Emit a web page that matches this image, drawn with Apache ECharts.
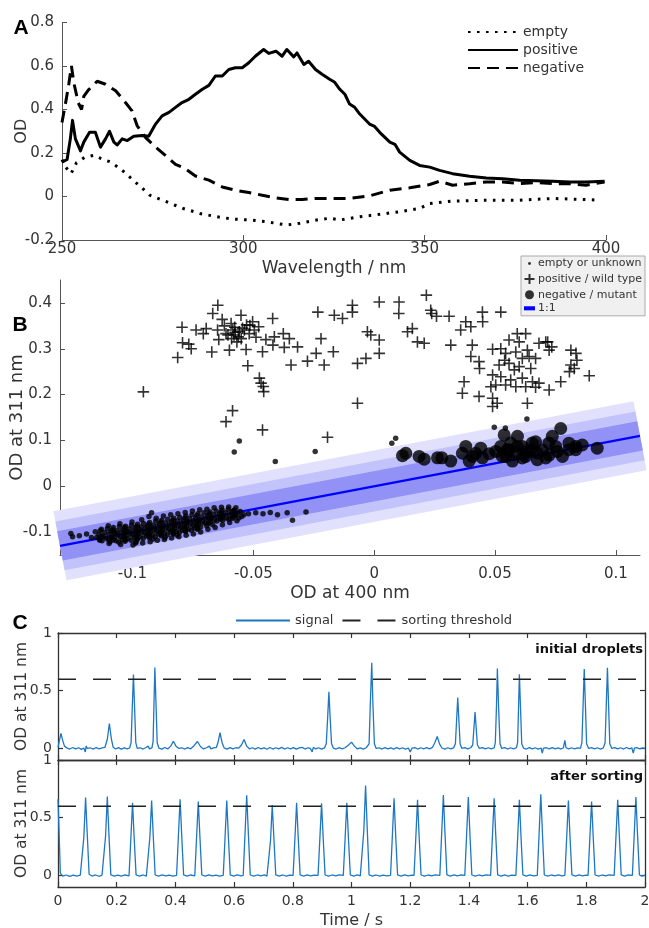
<!DOCTYPE html>
<html>
<head>
<meta charset="utf-8">
<script src="https://cdn.jsdelivr.net/npm/echarts@6/dist/echarts.min.js"></script>
<style>html,body{margin:0;padding:0;background:#fff}#c{width:649px;height:928px}</style>
</head>
<body>
<div id="c"></div>
<script>
// ---------- Panel A: spectra [wavelength nm, OD] ----------
const emptySpectrum = [[250,0.17],[251,0.135],[252.5,0.105],[254,0.155],[256.2,0.18],[258.9,0.19],[260.8,0.174],[263.5,0.158],[265.4,0.135],[267.2,0.112],[269.6,0.075],[272,0.04],[274.2,0.006],[278.8,-0.024],[283.4,-0.055],[288,-0.078],[292.6,-0.093],[297.2,-0.104],[301.8,-0.108],[306.4,-0.116],[311.9,-0.131],[315.6,-0.123],[320.2,-0.108],[323.8,-0.1],[326.6,-0.108],[332.1,-0.093],[337.6,-0.082],[343.1,-0.07],[348.6,-0.055],[351.4,-0.032],[357.7,-0.021],[367,-0.017],[376.2,-0.017],[385.3,-0.009],[394.5,-0.014],[398.3,-0.017]];
const positiveSpectrum = [[250,0.158],[251.4,0.17],[252.3,0.265],[252.9,0.35],[253.7,0.265],[255.1,0.21],[256,0.25],[257.6,0.295],[259.2,0.295],[260.6,0.227],[262,0.265],[263.1,0.3],[264.3,0.25],[265.2,0.237],[266.6,0.265],[268,0.257],[269.8,0.277],[272.1,0.28],[273.9,0.277],[275.8,0.333],[277.6,0.371],[279.5,0.387],[281.3,0.41],[283.1,0.432],[285,0.447],[286.8,0.47],[288.7,0.493],[290.5,0.511],[292.3,0.554],[294.2,0.554],[296,0.584],[297.8,0.592],[299.7,0.592],[301.5,0.615],[303.3,0.645],[305.6,0.676],[307,0.658],[309,0.668],[310.7,0.645],[312,0.676],[313.9,0.642],[314.8,0.66],[316.7,0.607],[318,0.622],[319.9,0.584],[321.7,0.562],[323.8,0.539],[325.2,0.525],[326.6,0.493],[328,0.47],[329.3,0.425],[330.7,0.41],[332.1,0.379],[334.8,0.333],[336.2,0.322],[337.6,0.295],[340.4,0.25],[341.8,0.24],[343.1,0.204],[345.9,0.166],[348.6,0.143],[351.4,0.135],[354.1,0.12],[357.7,0.105],[362.4,0.093],[367,0.085],[371.5,0.082],[376.2,0.075],[380.8,0.072],[385.3,0.07],[390,0.067],[394.5,0.067],[399.6,0.07]];
const negativeSpectrum = [[250,0.34],[251.2,0.45],[251.9,0.52],[252.6,0.6],[253.3,0.52],[254.5,0.43],[255.4,0.4],[256,0.46],[257.3,0.49],[259.7,0.53],[262,0.516],[264.8,0.486],[267.5,0.432],[269.3,0.394],[270.7,0.326],[273,0.272],[275.8,0.227],[278.5,0.189],[281.3,0.148],[284,0.128],[286.8,0.094],[290.5,0.075],[294.2,0.044],[297.8,0.029],[301.5,0.018],[305.2,0.006],[308.9,-0.006],[312.5,-0.014],[316.2,-0.014],[319.9,-0.009],[323.8,-0.009],[329.3,-0.009],[334.8,0.003],[340.4,0.029],[345.9,0.04],[351.4,0.055],[354.1,0.07],[357.7,0.052],[362.4,0.059],[367,0.067],[371.5,0.067],[376.2,0.059],[380.8,0.064],[385.3,0.059],[390,0.059],[394.5,0.052],[399.6,0.067]];
const wavelengthTicks = [250, 300, 350, 400];

// ---------- Panel B: OD at 400 nm vs OD at 311 nm ----------
const emptyPoints = [
[-0.1255,-0.103],[-0.1248,-0.110],[-0.1220,-0.108],[-0.1190,-0.104],[-0.1170,-0.112],
[-0.1154,-0.099],[-0.1139,-0.106],[-0.1148,-0.112],[-0.1135,-0.118],
[-0.1129,-0.094],[-0.1114,-0.101],[-0.1123,-0.108],[-0.1110,-0.113],[-0.1126,-0.119],
[-0.1104,-0.092],[-0.1089,-0.098],[-0.1098,-0.104],[-0.1085,-0.110],[-0.1101,-0.116],[-0.1093,-0.121],
[-0.1079,-0.090],[-0.1064,-0.097],[-0.1073,-0.102],[-0.1060,-0.107],[-0.1076,-0.113],[-0.1068,-0.119],
[-0.1054,-0.088],[-0.1039,-0.095],[-0.1048,-0.100],[-0.1035,-0.105],[-0.1051,-0.110],[-0.1043,-0.116],[-0.1056,-0.122],
[-0.1029,-0.087],[-0.1014,-0.093],[-0.1023,-0.098],[-0.1010,-0.103],[-0.1026,-0.108],[-0.1018,-0.114],[-0.1031,-0.120],
[-0.1004,-0.085],[-0.0989,-0.091],[-0.0998,-0.097],[-0.0985,-0.101],[-0.1001,-0.106],[-0.0993,-0.112],[-0.1006,-0.118],[-0.0987,-0.124],
[-0.0979,-0.083],[-0.0964,-0.089],[-0.0973,-0.094],[-0.0960,-0.099],[-0.0976,-0.104],[-0.0968,-0.110],[-0.0981,-0.116],
[-0.0954,-0.081],[-0.0939,-0.087],[-0.0948,-0.092],[-0.0935,-0.097],[-0.0951,-0.102],[-0.0943,-0.108],[-0.0956,-0.114],
[-0.0929,-0.079],[-0.0914,-0.085],[-0.0923,-0.090],[-0.0910,-0.095],[-0.0926,-0.100],[-0.0918,-0.106],[-0.0931,-0.112],
[-0.0904,-0.076],[-0.0889,-0.082],[-0.0898,-0.088],[-0.0885,-0.093],[-0.0901,-0.098],[-0.0893,-0.104],[-0.0906,-0.110],
[-0.0879,-0.074],[-0.0864,-0.080],[-0.0873,-0.086],[-0.0860,-0.091],[-0.0876,-0.096],[-0.0868,-0.102],[-0.0881,-0.108],
[-0.0854,-0.072],[-0.0839,-0.078],[-0.0848,-0.084],[-0.0835,-0.089],[-0.0851,-0.094],[-0.0843,-0.100],[-0.0856,-0.106],
[-0.0829,-0.070],[-0.0814,-0.076],[-0.0823,-0.082],[-0.0810,-0.087],[-0.0826,-0.092],[-0.0818,-0.098],[-0.0831,-0.104],
[-0.0804,-0.068],[-0.0789,-0.074],[-0.0798,-0.080],[-0.0785,-0.085],[-0.0801,-0.090],[-0.0793,-0.096],[-0.0806,-0.101],
[-0.0779,-0.065],[-0.0764,-0.071],[-0.0773,-0.077],[-0.0760,-0.082],[-0.0776,-0.087],[-0.0768,-0.093],[-0.0781,-0.098],
[-0.0754,-0.062],[-0.0739,-0.069],[-0.0748,-0.075],[-0.0735,-0.080],[-0.0751,-0.085],[-0.0743,-0.091],[-0.0756,-0.096],
[-0.0729,-0.060],[-0.0714,-0.067],[-0.0723,-0.073],[-0.0710,-0.078],[-0.0726,-0.083],[-0.0718,-0.089],[-0.0731,-0.094],
[-0.0704,-0.058],[-0.0689,-0.064],[-0.0698,-0.070],[-0.0685,-0.075],[-0.0701,-0.080],[-0.0693,-0.086],
[-0.0679,-0.056],[-0.0664,-0.062],[-0.0673,-0.068],[-0.0660,-0.073],[-0.0676,-0.078],[-0.0668,-0.084],
[-0.0654,-0.054],[-0.0639,-0.060],[-0.0648,-0.066],[-0.0635,-0.071],[-0.0651,-0.076],
[-0.0629,-0.052],[-0.0614,-0.058],[-0.0623,-0.064],[-0.0610,-0.069],[-0.0626,-0.074],
[-0.0604,-0.050],[-0.0589,-0.056],[-0.0598,-0.062],[-0.0585,-0.067],[-0.0601,-0.072],
[-0.0579,-0.052],[-0.0564,-0.058],[-0.0573,-0.064],[-0.0560,-0.069],
[-0.0554,-0.055],[-0.0539,-0.062],[-0.0548,-0.066],
[-0.1133,-0.097],[-0.1128,-0.110],[-0.1136,-0.116],[-0.1083,-0.095],[-0.1078,-0.100],[-0.1086,-0.112],[-0.1080,-0.117],
[-0.1033,-0.090],[-0.1028,-0.101],[-0.1036,-0.111],[-0.1030,-0.118],[-0.0983,-0.088],[-0.0978,-0.099],[-0.0986,-0.108],[-0.0980,-0.114],
[-0.0933,-0.083],[-0.0928,-0.094],[-0.0936,-0.104],[-0.0930,-0.109],[-0.0883,-0.078],[-0.0878,-0.090],[-0.0886,-0.100],[-0.0880,-0.106],
[-0.0833,-0.074],[-0.0828,-0.085],[-0.0836,-0.096],[-0.0830,-0.102],[-0.0783,-0.069],[-0.0778,-0.080],[-0.0786,-0.091],[-0.0780,-0.097],
[-0.0733,-0.064],[-0.0728,-0.076],[-0.0736,-0.086],[-0.0730,-0.092],[-0.0683,-0.060],[-0.0678,-0.071],[-0.0686,-0.081],
[-0.0633,-0.056],[-0.0628,-0.067],[-0.0636,-0.072],[-0.0583,-0.054],[-0.0578,-0.064],[-0.0586,-0.070],
[-0.1100,-0.086],[-0.1097,-0.125],[-0.1052,-0.082],[-0.1049,-0.127],[-0.1002,-0.078],[-0.0998,-0.128],[-0.0962,-0.073],[-0.0958,-0.124],
[-0.0932,-0.066],[-0.0927,-0.121],[-0.0921,-0.058],[-0.0902,-0.070],[-0.0897,-0.118],[-0.0872,-0.065],[-0.0868,-0.116],[-0.0842,-0.062],
[-0.0838,-0.113],[-0.0812,-0.060],[-0.0808,-0.110],[-0.0782,-0.057],[-0.0778,-0.107],[-0.0752,-0.054],[-0.0748,-0.104],[-0.0722,-0.051],
[-0.0718,-0.100],[-0.0692,-0.050],[-0.0688,-0.094],[-0.0662,-0.047],[-0.0658,-0.090],[-0.0632,-0.046],[-0.0628,-0.084],[-0.0602,-0.045],
[-0.0598,-0.079],[-0.0572,-0.047],[-0.0568,-0.075],[-0.0985,-0.121],[-0.0915,-0.115],[-0.0865,-0.111],[-0.0815,-0.107],
[-0.0520,-0.060],[-0.0490,-0.058],[-0.0460,-0.060],[-0.0430,-0.057],[-0.0400,-0.062],[-0.0360,-0.058],
[-0.0558,0.099],[-0.0579,0.075],[-0.0409,0.054],[-0.0244,0.076],[-0.0338,-0.074],[-0.0282,-0.056],
[0.0073,0.094],[0.0089,0.105],[0.0497,0.129],[0.0543,0.127],[0.0632,0.147]];
const positivePoints = [[-0.0955,0.206],[-0.0813,0.281],[-0.0795,0.347],[-0.0793,0.313],[-0.0767,0.310],[-0.0757,0.300],[-0.0737,0.341],[-0.0707,0.333],[-0.0695,0.344],[-0.0672,0.293],[-0.0668,0.377],[-0.0647,0.395],[-0.0648,0.341],[-0.0643,0.320],[-0.0629,0.364],[-0.0613,0.333],[-0.0599,0.297],[-0.0592,0.355],[-0.0590,0.322],[-0.0585,0.341],[-0.0580,0.330],[-0.0577,0.347],[-0.0558,0.337],[-0.0551,0.373],[-0.0550,0.322],[-0.0537,0.341],[-0.0530,0.2985],[-0.0523,0.263],[-0.0517,0.333],[-0.0514,0.351],[-0.0503,0.359],[-0.0496,0.341],[-0.0489,0.325],[-0.0478,0.348],[-0.0475,0.236],[-0.0468,0.225],[-0.0462,0.2935],[-0.0462,0.123],[-0.0457,0.2065],[-0.0459,0.2175],[-0.0448,0.320],[-0.0420,0.366],[-0.0419,0.308],[-0.0413,0.326],[-0.0376,0.333],[-0.0372,0.303],[-0.0351,0.322],[-0.0344,0.2645],[-0.0317,0.304],[-0.0276,0.273],[-0.0240,0.290],[-0.0233,0.380],[-0.0220,0.322],[-0.0207,0.2645],[-0.0193,0.107],[-0.0613,0.141],[-0.0586,0.165],[-0.0605,0.330],[-0.0575,0.336],[-0.0562,0.326],[-0.0545,0.345],[-0.0528,0.352],[-0.0568,0.315],[-0.0620,0.350],[-0.0165,0.373],[-0.0169,0.2935],[-0.0131,0.366],[-0.0090,0.380],[-0.0090,0.395],[-0.0069,0.268],[-0.0069,0.181],[-0.0034,0.279],[-0.0028,0.337],[-0.0014,0.330],[0.0021,0.402],[0.0021,0.319],[0.0021,0.290],[0.0103,0.402],[0.0102,0.377],[0.0138,0.337],[0.0158,0.344],[0.0179,0.315],[0.0207,0.312],[0.0216,0.417],[0.0234,0.384],[0.0238,0.377],[0.0258,0.371],[0.0310,0.371],[0.0317,0.308],[0.0358,0.341],[0.0379,0.359],[0.0400,0.348],[0.0406,0.308],[0.0448,0.380],[0.0449,0.359],[0.0524,0.380],[0.0400,0.283],[0.0434,0.272],[0.0436,0.257],[0.0372,0.228],[0.0365,0.203],[0.0434,0.196],[0.0490,0.192],[0.0490,0.174],[0.0509,0.181],[0.0634,0.181],[0.0724,0.210],[0.0772,0.228],[0.0890,0.241],[0.0835,0.290],[0.0839,0.275],[0.0814,0.2645],[0.0808,0.250],[0.0592,0.333],[0.0627,0.333],[0.0558,0.319],[0.0682,0.312],[0.0710,0.315],[0.0718,0.315],[0.0735,0.304],[0.0490,0.299],[0.0524,0.300],[0.0544,0.290],[0.0586,0.293],[0.0613,0.279],[0.0641,0.283],[0.0668,0.279],[0.0517,0.2645],[0.0558,0.268],[0.0600,0.261],[0.0648,0.257],[0.0490,0.243],[0.0524,0.239],[0.0565,0.232],[0.0613,0.236],[0.0655,0.228],[0.0682,0.225],[0.0503,0.221],[0.0544,0.221],[0.0586,0.217],[0.0627,0.217],[0.0668,0.216],[0.0483,0.217],[0.0580,0.254],[0.0540,0.275],[0.0634,0.297],[0.0600,0.315],[0.0724,0.297],[0.0814,0.297],[0.0828,0.257]];
const negativePoints = [[0.0117,0.0667],[0.0131,0.072],[0.0186,0.065],[0.0207,0.059],[0.0262,0.062],[0.0280,0.062],[0.0317,0.055],[0.0365,0.072],[0.0379,0.087],[0.0393,0.055],[0.0407,0.065],[0.0420,0.072],[0.0441,0.083],[0.0448,0.062],[0.0476,0.071],[0.0503,0.076],[0.0524,0.087],[0.0538,0.112],[0.0545,0.065],[0.0558,0.079],[0.0572,0.055],[0.0586,0.072],[0.0593,0.109],[0.0613,0.087],[0.0627,0.065],[0.0648,0.079],[0.0668,0.097],[0.0675,0.058],[0.0696,0.079],[0.0724,0.068],[0.0737,0.109],[0.0751,0.087],[0.0772,0.126],[0.0779,0.065],[0.0806,0.094],[0.0834,0.087],[0.0861,0.090],[0.0923,0.083],[0.0530,0.0652],[0.0565,0.0943],[0.0613,0.0617],[0.0654,0.0943],[0.0675,0.0726],[0.0723,0.0943],[0.0758,0.076],[0.0806,0.0798],[0.0834,0.0798],[0.0551,0.0798],[0.0592,0.087],[0.0634,0.076],[0.0710,0.0617]];
const identityRange = [-0.13, 0.11];
const bandHalfWidths = [0.078, 0.055, 0.033];
const odTicksX = [-0.1, -0.05, 0, 0.05, 0.1];
const odTicksY = [-0.1, 0, 0.1, 0.2, 0.3, 0.4];

// ---------- Panel C: time traces [time s, OD at 311 nm] ----------
const signalInitial = [[0.000,0.01],[0.004,0.06],[0.010,0.13],[0.016,0.07],[0.022,0.02],[0.030,0.005],[0.040,-0.005],[0.050,0.008],[0.060,-0.004],[0.070,0.006],[0.080,-0.008],[0.088,0.004],[0.093,-0.03],[0.096,0.02],[0.100,0.0],[0.110,0.006],[0.120,-0.006],[0.130,0.008],[0.140,-0.003],[0.150,0.005],[0.160,0.01],[0.168,0.08],[0.175,0.215],[0.182,0.08],[0.188,0.01],[0.196,-0.005],[0.206,0.007],[0.216,-0.006],[0.226,0.005],[0.236,-0.004],[0.244,0.004],[0.249,0.05],[0.253,0.35],[0.257,0.64],[0.261,0.35],[0.265,0.05],[0.270,0.0],[0.280,0.006],[0.290,-0.005],[0.300,0.008],[0.307,0.02],[0.312,-0.004],[0.320,0.005],[0.324,0.06],[0.327,0.38],[0.330,0.70],[0.334,0.38],[0.338,0.05],[0.344,0.002],[0.354,-0.006],[0.364,0.008],[0.374,-0.004],[0.384,0.02],[0.393,0.063],[0.402,0.02],[0.412,0.0],[0.422,0.006],[0.432,-0.005],[0.442,0.007],[0.452,-0.003],[0.462,0.02],[0.475,0.06],[0.486,0.015],[0.496,-0.004],[0.506,0.006],[0.516,0.02],[0.521,-0.004],[0.530,0.005],[0.540,0.01],[0.546,0.06],[0.552,0.136],[0.559,0.05],[0.566,0.005],[0.576,-0.006],[0.586,0.007],[0.596,-0.004],[0.606,0.006],[0.616,0.003],[0.625,0.03],[0.634,0.078],[0.643,0.02],[0.652,-0.003],[0.662,0.006],[0.672,-0.006],[0.682,0.008],[0.692,-0.004],[0.702,0.005],[0.712,-0.007],[0.722,0.008],[0.732,-0.005],[0.742,0.006],[0.752,-0.004],[0.762,0.009],[0.772,-0.005],[0.782,0.006],[0.792,-0.003],[0.802,0.007],[0.812,-0.006],[0.822,0.005],[0.832,0.009],[0.842,-0.005],[0.852,0.006],[0.860,0.0],[0.866,-0.03],[0.870,0.01],[0.878,-0.004],[0.888,0.006],[0.898,-0.005],[0.908,0.005],[0.914,0.04],[0.919,0.28],[0.923,0.49],[0.927,0.28],[0.932,0.04],[0.938,0.003],[0.948,-0.005],[0.958,0.007],[0.968,-0.004],[0.978,0.006],[0.990,0.03],[1.000,0.055],[1.010,0.02],[1.020,-0.004],[1.030,0.005],[1.040,-0.006],[1.050,0.006],[1.060,0.04],[1.064,0.38],[1.069,0.742],[1.073,0.38],[1.078,0.04],[1.084,0.0],[1.094,0.006],[1.104,-0.005],[1.114,0.007],[1.124,-0.004],[1.134,0.005],[1.144,-0.006],[1.154,0.008],[1.164,-0.003],[1.174,0.006],[1.184,-0.005],[1.194,0.004],[1.200,-0.03],[1.206,0.002],[1.216,0.007],[1.226,-0.005],[1.236,0.006],[1.246,-0.004],[1.256,0.008],[1.266,-0.003],[1.276,0.01],[1.284,0.05],[1.292,0.104],[1.300,0.04],[1.308,0.004],[1.318,-0.005],[1.328,0.006],[1.338,-0.003],[1.348,0.005],[1.354,0.04],[1.358,0.24],[1.362,0.44],[1.366,0.24],[1.370,0.04],[1.376,0.0],[1.386,0.007],[1.396,-0.004],[1.406,0.006],[1.413,0.03],[1.417,0.17],[1.421,0.316],[1.425,0.17],[1.429,0.03],[1.436,0.0],[1.446,0.007],[1.456,-0.004],[1.466,0.006],[1.476,-0.003],[1.486,0.005],[1.490,0.05],[1.494,0.37],[1.497,0.693],[1.501,0.37],[1.506,0.04],[1.512,0.0],[1.522,0.007],[1.532,-0.005],[1.542,0.006],[1.552,-0.003],[1.562,0.006],[1.566,0.05],[1.569,0.34],[1.572,0.643],[1.576,0.34],[1.580,0.04],[1.586,0.003],[1.596,-0.005],[1.606,0.007],[1.616,-0.004],[1.626,0.006],[1.636,-0.005],[1.646,0.004],[1.650,-0.04],[1.654,0.003],[1.664,0.006],[1.674,-0.004],[1.684,0.007],[1.694,-0.003],[1.704,0.005],[1.714,-0.005],[1.722,0.006],[1.727,0.07],[1.731,0.006],[1.740,-0.004],[1.750,0.006],[1.760,-0.003],[1.770,0.005],[1.780,0.0],[1.785,0.05],[1.789,0.37],[1.793,0.687],[1.797,0.37],[1.801,0.04],[1.808,0.0],[1.818,0.007],[1.828,-0.004],[1.838,0.006],[1.848,-0.005],[1.858,0.005],[1.864,0.05],[1.868,0.37],[1.872,0.698],[1.876,0.37],[1.880,0.04],[1.887,0.0],[1.897,0.007],[1.907,-0.004],[1.917,0.006],[1.927,-0.005],[1.937,0.008],[1.947,-0.004],[1.955,0.006],[1.960,-0.04],[1.964,0.002],[1.972,0.007],[1.982,-0.004],[1.992,0.005],[2.000,0.0]];
const signalSorted = [[0.000,0.66],[0.004,0.35],[0.008,0.02],[0.016,-0.006],[0.028,0.004],[0.040,-0.008],[0.052,0.003],[0.064,-0.006],[0.076,0.002],[0.082,0.0],[0.088,0.33],[0.094,0.674],[0.100,0.34],[0.106,0.01],[0.116,-0.005],[0.128,0.004],[0.140,-0.007],[0.150,0.002],[0.156,0.0],[0.162,0.34],[0.168,0.683],[0.174,0.33],[0.180,0.005],[0.192,-0.006],[0.204,0.003],[0.216,-0.005],[0.228,0.004],[0.242,-0.004],[0.248,0.31],[0.254,0.63],[0.260,0.3],[0.266,0.005],[0.278,-0.005],[0.290,0.004],[0.301,-0.006],[0.307,0.0],[0.313,0.33],[0.319,0.648],[0.325,0.32],[0.331,0.004],[0.343,-0.006],[0.355,0.005],[0.367,-0.004],[0.379,0.003],[0.391,-0.006],[0.404,0.0],[0.410,0.33],[0.416,0.66],[0.422,0.32],[0.428,0.005],[0.440,-0.005],[0.452,0.004],[0.466,-0.003],[0.472,0.32],[0.478,0.64],[0.484,0.31],[0.490,0.004],[0.502,-0.006],[0.514,0.005],[0.526,-0.004],[0.538,0.003],[0.550,-0.006],[0.563,0.0],[0.569,0.32],[0.575,0.648],[0.581,0.31],[0.587,0.004],[0.599,-0.005],[0.611,0.005],[0.623,-0.004],[0.631,0.0],[0.637,0.35],[0.643,0.695],[0.649,0.34],[0.655,0.004],[0.667,-0.006],[0.679,0.004],[0.691,-0.004],[0.703,0.005],[0.712,-0.005],[0.718,0.0],[0.724,0.3],[0.730,0.61],[0.736,0.3],[0.742,0.004],[0.754,-0.005],[0.766,0.004],[0.778,-0.006],[0.790,0.003],[0.801,0.0],[0.807,0.31],[0.813,0.63],[0.819,0.3],[0.825,0.004],[0.837,-0.005],[0.849,0.005],[0.861,-0.004],[0.873,0.003],[0.886,0.0],[0.892,0.31],[0.898,0.625],[0.904,0.3],[0.910,0.004],[0.922,-0.006],[0.934,0.004],[0.946,-0.004],[0.958,0.005],[0.972,0.0],[0.978,0.31],[0.984,0.63],[0.990,0.3],[0.996,0.004],[1.008,-0.005],[1.020,0.004],[1.030,-0.004],[1.036,0.0],[1.042,0.39],[1.048,0.778],[1.054,0.38],[1.060,0.005],[1.072,-0.005],[1.084,0.004],[1.096,-0.006],[1.108,0.003],[1.120,-0.004],[1.133,0.0],[1.139,0.33],[1.145,0.669],[1.151,0.32],[1.157,0.004],[1.169,-0.005],[1.181,0.005],[1.193,-0.004],[1.205,0.003],[1.213,0.0],[1.219,0.32],[1.225,0.655],[1.231,0.31],[1.237,0.004],[1.249,-0.006],[1.261,0.004],[1.273,-0.003],[1.285,0.005],[1.301,0.0],[1.307,0.35],[1.313,0.697],[1.319,0.34],[1.325,0.004],[1.337,-0.005],[1.349,0.005],[1.361,-0.004],[1.373,0.004],[1.386,0.0],[1.392,0.34],[1.398,0.68],[1.404,0.33],[1.410,0.004],[1.422,-0.006],[1.434,0.004],[1.446,-0.004],[1.458,0.005],[1.474,0.0],[1.480,0.33],[1.486,0.669],[1.492,0.32],[1.498,0.004],[1.510,-0.005],[1.522,0.004],[1.534,-0.005],[1.546,0.003],[1.560,0.0],[1.566,0.32],[1.572,0.655],[1.578,0.31],[1.584,0.004],[1.596,-0.005],[1.608,0.004],[1.620,-0.004],[1.633,0.0],[1.639,0.35],[1.645,0.703],[1.651,0.34],[1.657,0.004],[1.669,-0.006],[1.681,0.004],[1.693,-0.003],[1.705,0.005],[1.717,-0.004],[1.727,0.0],[1.733,0.32],[1.739,0.648],[1.745,0.31],[1.751,0.004],[1.763,-0.005],[1.775,0.004],[1.787,-0.004],[1.799,0.003],[1.806,0.0],[1.812,0.32],[1.818,0.64],[1.824,0.31],[1.830,0.004],[1.842,-0.006],[1.854,0.004],[1.866,-0.004],[1.878,0.005],[1.895,0.0],[1.901,0.33],[1.907,0.655],[1.913,0.32],[1.919,0.004],[1.931,-0.005],[1.943,0.004],[1.957,0.0],[1.963,0.34],[1.969,0.68],[1.975,0.33],[1.981,0.004],[1.990,-0.005],[2.000,0.002]];
const sortingThreshold = 0.6;
const timeRange = [0, 2];
const traceTicksY = [0, 0.5, 1];

// ---------- styling helpers ----------
const FONT = 'DejaVu Sans';
const AX = '#555', TXT = '#333';
const bandColors = ['#e1e1fd', '#c3c3fb', '#9191f6'];
const plusPath = 'path://M5 0V10M0 5H10';
const dotIcon = 'path://M0 0M10 10M3.6 5a1.4 1.4 0 1 0 2.8 0a1.4 1.4 0 1 0 -2.8 0z';
const circleIcon = 'path://M0 0M10 10M0.5 5a4.5 4.5 0 1 0 9 0a4.5 4.5 0 1 0 -9 0z';
const rectIcon = 'path://M0 0M13 10M0 2.6h13v4.8h-13z';

function plainAxis(extra) {
  return Object.assign({
    type: 'value', splitLine: {show: false}, nameMoveOverlap: false,
    axisLine: {show: true, onZero: false, lineStyle: {color: AX, width: 1}},
    axisTick: {show: true, inside: true, length: 5, lineStyle: {color: AX}},
    axisLabel: {color: TXT, fontFamily: FONT, fontSize: 15},
    nameTextStyle: {color: TXT, fontFamily: FONT, fontSize: 16}
  }, extra);
}
function boxAxis(extra) {
  const a = plainAxis(extra);
  a.axisLine.lineStyle = {color: '#333', width: 1.3};
  a.axisTick.lineStyle = {color: '#333', width: 1.2};
  a.axisLabel.fontSize = 14;
  return a;
}

const chart = echarts.init(document.getElementById('c'), null, {renderer: 'canvas'});

function renderBands(params, api) {
  const p0 = api.coord([identityRange[0], identityRange[0]]);
  const p1 = api.coord([identityRange[1], identityRange[1]]);
  const dx = p1[0] - p0[0], dy = p1[1] - p0[1];
  const len = Math.hypot(dx, dy);
  const ux = dx / len, uy = dy / len;
  const nx = -uy, ny = ux;
  const cosA = Math.abs(ux);
  const children = bandHalfWidths.map((w, i) => {
    const h = Math.abs(api.size([0, w])[1]) * cosA;
    return {
      type: 'polygon',
      shape: {points: [[p0[0] + nx * h, p0[1] + ny * h], [p1[0] + nx * h, p1[1] + ny * h], [p1[0] - nx * h, p1[1] - ny * h], [p0[0] - nx * h, p0[1] - ny * h]]},
      style: {fill: bandColors[i]}
    };
  });
  return {type: 'group', children};
}

const gridBase = {containLabel: false, outerBoundsMode: 'none'};
const option = {
  animation: false,
  backgroundColor: '#fff',
  textStyle: {fontFamily: FONT},
  grid: [
    Object.assign({left: 62, top: 22.5, width: 544, height: 217.5}, gridBase),
    Object.assign({left: 60, top: 280, width: 580, height: 275}, gridBase),
    Object.assign({left: 58, top: 633, width: 587, height: 127}, gridBase),
    Object.assign({left: 58, top: 760, width: 587, height: 127}, gridBase)
  ],
  xAxis: [
    plainAxis({gridIndex: 0, min: wavelengthTicks[0], max: wavelengthTicks[wavelengthTicks.length - 1], interval: 50,
      name: 'Wavelength / nm', nameLocation: 'middle', nameGap: 20,
      nameTextStyle: {color: TXT, fontFamily: FONT, fontSize: 17},
      axisLabel: {color: TXT, fontFamily: FONT, fontSize: 15, margin: 2}}),
    plainAxis({gridIndex: 1, min: identityRange[0], max: identityRange[1],
      axisLabel: {color: TXT, fontFamily: FONT, fontSize: 15, margin: 12, customValues: odTicksX},
      axisTick: {show: true, inside: true, length: 5, lineStyle: {color: AX}, customValues: odTicksX},
      name: 'OD at 400 nm', nameLocation: 'middle', nameGap: 30,
      nameTextStyle: {color: TXT, fontFamily: FONT, fontSize: 17}}),
    boxAxis({gridIndex: 2, min: timeRange[0], max: timeRange[1], interval: 0.2, axisLabel: {show: false}}),
    boxAxis({gridIndex: 2, min: timeRange[0], max: timeRange[1], interval: 0.2, position: 'top', axisLabel: {show: false}}),
    boxAxis({gridIndex: 3, min: timeRange[0], max: timeRange[1], interval: 0.2,
      name: 'Time / s', nameLocation: 'middle', nameGap: 26,
      nameTextStyle: {color: TXT, fontFamily: FONT, fontSize: 16},
      axisLabel: {color: TXT, fontFamily: FONT, fontSize: 14, margin: 7}}),
    boxAxis({gridIndex: 3, min: timeRange[0], max: timeRange[1], interval: 0.2, position: 'top', axisLabel: {show: false}})
  ],
  yAxis: [
    plainAxis({gridIndex: 0, min: -0.2, max: 0.8, interval: 0.2,
      name: 'OD', nameLocation: 'middle', nameGap: 32,
      nameTextStyle: {color: TXT, fontFamily: FONT, fontSize: 16}}),
    plainAxis({gridIndex: 1, min: -0.15, max: 0.45,
      axisLabel: {color: TXT, fontFamily: FONT, fontSize: 15, customValues: odTicksY},
      axisTick: {show: true, inside: true, length: 5, lineStyle: {color: AX}, customValues: odTicksY},
      name: 'OD at 311 nm', nameLocation: 'middle', nameGap: 34,
      nameTextStyle: {color: TXT, fontFamily: FONT, fontSize: 18}}),
    boxAxis({gridIndex: 2, min: -0.1, max: 1,
      axisLabel: {color: TXT, fontFamily: FONT, fontSize: 14, margin: 6, customValues: traceTicksY},
      axisTick: {show: true, inside: true, length: 5, lineStyle: {color: '#333'}, customValues: traceTicksY},
      name: 'OD at 311 nm', nameLocation: 'middle', nameGap: 28,
      nameTextStyle: {color: TXT, fontFamily: FONT, fontSize: 15.5}}),
    boxAxis({gridIndex: 2, min: -0.1, max: 1, position: 'right',
      axisLabel: {show: false, customValues: traceTicksY},
      axisTick: {show: true, inside: true, length: 5, lineStyle: {color: '#333'}, customValues: traceTicksY}}),
    boxAxis({gridIndex: 3, min: -0.1, max: 1,
      axisLabel: {color: TXT, fontFamily: FONT, fontSize: 14, margin: 6, customValues: traceTicksY},
      axisTick: {show: true, inside: true, length: 5, lineStyle: {color: '#333'}, customValues: traceTicksY},
      name: 'OD at 311 nm', nameLocation: 'middle', nameGap: 28,
      nameTextStyle: {color: TXT, fontFamily: FONT, fontSize: 15.5}}),
    boxAxis({gridIndex: 3, min: -0.1, max: 1, position: 'right',
      axisLabel: {show: false, customValues: traceTicksY},
      axisTick: {show: true, inside: true, length: 5, lineStyle: {color: '#333'}, customValues: traceTicksY}})
  ],
  legend: [
    {data: ['empty', 'positive', 'negative'], orient: 'vertical', left: 462, top: 20,
      itemWidth: 50, itemHeight: 14, itemGap: 4, selectedMode: false,
      itemStyle: {opacity: 0},
      textStyle: {color: TXT, fontFamily: FONT, fontSize: 14}},
    {data: [
        {name: 'empty or unknown', icon: dotIcon},
        {name: 'positive / wild type', icon: plusPath},
        {name: 'negative / mutant', icon: circleIcon},
        {name: '1:1', icon: rectIcon}],
      orient: 'vertical', left: 521, top: 256, itemWidth: 11, itemHeight: 10, itemGap: 2.6,
      padding: [2, 3, 2, 1], backgroundColor: '#f0f0f0', borderColor: '#aaa', borderWidth: 1,
      selectedMode: false,
      textStyle: {color: TXT, fontFamily: FONT, fontSize: 11, padding: [0, 0, 0, -2]}},
    {data: ['signal', 'sorting threshold'], orient: 'horizontal', left: 230, top: 609,
      itemWidth: 54, itemHeight: 10, itemGap: 8, selectedMode: false,
      itemStyle: {opacity: 0},
      textStyle: {color: TXT, fontFamily: FONT, fontSize: 13}}
  ],
  graphic: [
    {type: 'text', x: 21, y: 28, style: {text: 'A', font: 'bold 21px "Liberation Sans"', fill: '#000', align: 'center', verticalAlign: 'middle'}},
    {type: 'text', x: 20, y: 325, style: {text: 'B', font: 'bold 21px "Liberation Sans"', fill: '#000', align: 'center', verticalAlign: 'middle'}},
    {type: 'text', x: 20, y: 623, style: {text: 'C', font: 'bold 21px "Liberation Sans"', fill: '#000', align: 'center', verticalAlign: 'middle'}},
    {type: 'text', x: 643, y: 650, style: {text: 'initial droplets', font: 'bold 13px "DejaVu Sans"', fill: '#111', align: 'right', verticalAlign: 'middle'}},
    {type: 'text', x: 643, y: 777, style: {text: 'after sorting', font: 'bold 13px "DejaVu Sans"', fill: '#111', align: 'right', verticalAlign: 'middle'}}
  ],
  series: [
    {name: 'empty', type: 'line', xAxisIndex: 0, yAxisIndex: 0, data: emptySpectrum, symbol: 'none', smooth: false,
      itemStyle: {color: '#000'}, lineStyle: {color: '#000', width: 3, type: [2.6, 6.4], cap: 'butt'}},
    {name: 'positive', type: 'line', xAxisIndex: 0, yAxisIndex: 0, data: positiveSpectrum, symbol: 'none',
      itemStyle: {color: '#000'}, lineStyle: {color: '#000', width: 3, join: 'round'}},
    {name: 'negative', type: 'line', xAxisIndex: 0, yAxisIndex: 0, data: negativeSpectrum, symbol: 'none',
      itemStyle: {color: '#000'}, lineStyle: {color: '#000', width: 3, type: [12, 7], cap: 'butt'}},
    {name: 'bands', type: 'custom', xAxisIndex: 1, yAxisIndex: 1, data: [[0, 0]], renderItem: renderBands, clip: false, z: 1, silent: true},
    {name: '1:1', type: 'line', xAxisIndex: 1, yAxisIndex: 1, data: identityRange.map(v => [v, v]), symbol: 'none', z: 2,
      itemStyle: {color: '#0000ff'}, lineStyle: {color: '#0000ff', width: 2.2}},
    {name: 'empty or unknown', type: 'scatter', xAxisIndex: 1, yAxisIndex: 1, data: emptyPoints, symbol: 'circle', symbolSize: 5.5, z: 3,
      itemStyle: {color: '#000'}},
    {name: 'positive / wild type', type: 'scatter', xAxisIndex: 1, yAxisIndex: 1, data: positivePoints, symbol: plusPath, symbolSize: 11.5, z: 3,
      itemStyle: {color: 'none', borderColor: '#000', borderWidth: 1.6}},
    {name: 'negative / mutant', type: 'scatter', xAxisIndex: 1, yAxisIndex: 1, data: negativePoints, symbol: 'circle', symbolSize: 13, z: 3,
      itemStyle: {color: '#000'}},
    {name: 'signal', type: 'line', xAxisIndex: 2, yAxisIndex: 2, data: signalInitial, symbol: 'none',
      itemStyle: {color: '#1f77c4'}, lineStyle: {color: '#1f77c4', width: 1.3}},
    {name: 'sorting threshold', type: 'line', xAxisIndex: 2, yAxisIndex: 2, data: timeRange.map(t => [t, sortingThreshold]), symbol: 'none', z: 3,
      itemStyle: {color: '#222'}, lineStyle: {color: '#222', width: 1.4, type: [18, 17]}},
    {name: 'signal', type: 'line', xAxisIndex: 4, yAxisIndex: 4, data: signalSorted, symbol: 'none',
      itemStyle: {color: '#1f77c4'}, lineStyle: {color: '#1f77c4', width: 1.3}},
    {name: 'sorting threshold', type: 'line', xAxisIndex: 4, yAxisIndex: 4, data: timeRange.map(t => [t, sortingThreshold]), symbol: 'none', z: 3,
      itemStyle: {color: '#222'}, lineStyle: {color: '#222', width: 1.4, type: [18, 17]}}
  ]
};
chart.setOption(option);
</script>
</body>
</html>
